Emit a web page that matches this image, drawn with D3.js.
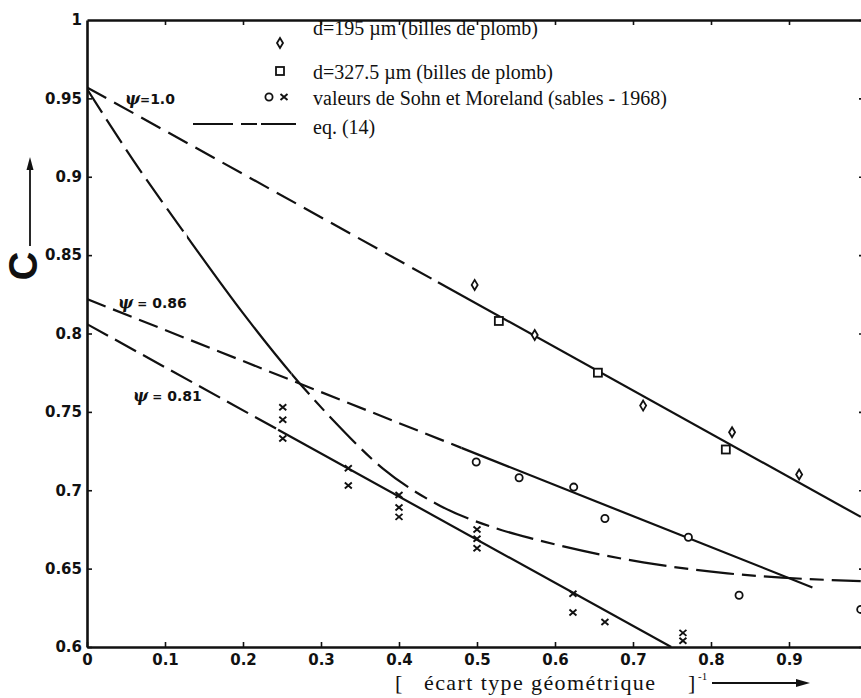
<!DOCTYPE html>
<html><head><meta charset="utf-8">
<script src="https://cdn.jsdelivr.net/npm/d3@7"></script>
<style>
body{margin:0;background:#fff}
svg{display:block}
.tick text{font-family:"DejaVu Sans",sans-serif;font-weight:bold;font-size:15px;fill:#111}
.lbl{font-family:"Liberation Serif","Times New Roman",serif;fill:#111}
</style>
</head><body>
<svg id="chart" width="861" height="698"></svg>
<script>
// ---------- data ----------
const xTicks = [0, 0.1, 0.2, 0.3, 0.4, 0.5, 0.6, 0.7, 0.8, 0.9];
const xTickLabels = ["0", "0.1", "0.2", "0.3", "0.4", "0.5", "0.6", "0.7", "0.8", "0.9"];
const yTicks = [0.6, 0.65, 0.7, 0.75, 0.8, 0.85, 0.9, 0.95, 1];
const yTickLabels = ["0.6", "0.65", "0.7", "0.75", "0.8", "0.85", "0.9", "0.95", "1"];

const legendLabels = ["d=195 \u00b5m (billes de plomb)", "d=327.5 \u00b5m (billes de plomb)",
  "valeurs de Sohn et Moreland (sables - 1968)", "eq. (14)"];

// d = 195 µm (diamonds)
const diamondX = [0.497, 0.574, 0.713, 0.827, 0.913];
const diamondC = [0.831, 0.799, 0.754, 0.737, 0.710];
// d = 327.5 µm (squares)
const squareX = [0.528, 0.655, 0.819];
const squareC = [0.808, 0.775, 0.726];
// Sohn & Moreland (circles)
const circleX = [0.499, 0.554, 0.624, 0.664, 0.771, 0.836, 0.992];
const circleC = [0.718, 0.708, 0.702, 0.682, 0.670, 0.633, 0.624];
// Sohn & Moreland (crosses)
const crossX = [0.251, 0.251, 0.251, 0.335, 0.335, 0.40, 0.40, 0.40, 0.50, 0.50, 0.50, 0.623, 0.623, 0.664, 0.764, 0.764];
const crossC = [0.753, 0.745, 0.733, 0.714, 0.703, 0.697, 0.689, 0.683, 0.675, 0.669, 0.663, 0.634, 0.622, 0.616, 0.609, 0.604];

// straight lines (start / end) and where the solid (fitted) part begins
const psi100X = [0, 0.992], psi100C = [0.957, 0.683], psi100SolidFrom = 0.45;
const psi086X = [0, 0.93],  psi086C = [0.822, 0.638], psi086SolidFrom = 0.48;
const psi081X = [0, 0.749], psi081C = [0.806, 0.600], psi081SolidFrom = 0.245;

// eq. (14) curve
const eq14X = [0, 0.06, 0.128, 0.2, 0.273, 0.315, 0.379, 0.453, 0.529, 0.572, 0.658, 0.713, 0.821, 0.992];
const eq14C = [0.956, 0.910, 0.862, 0.813, 0.768, 0.745, 0.714, 0.690, 0.675, 0.669, 0.659, 0.654, 0.647, 0.642];
const eq14SolidRange = [0.128, 0.262];

const psiLabels = ["1.0", "0.86", "0.81"];

// ---------- drawing ----------
const svg = d3.select("#chart");
const x = d3.scaleLinear().domain([0, 1]).range([87, 867]);
const y = d3.scaleLinear().domain([0.6, 1]).range([647, 20]);
const ink = "#111";

// axes
const gx = svg.append("g").attr("transform", `translate(0,${y(0.6)})`)
  .call(d3.axisBottom(x).tickValues(xTicks).tickFormat((d, i) => xTickLabels[i]).tickSize(-5).tickSizeOuter(0).tickPadding(7));
const gy = svg.append("g").attr("transform", `translate(${x(0)},0)`)
  .call(d3.axisLeft(y).tickValues(yTicks).tickFormat((d, i) => yTickLabels[i]).tickSize(-5).tickSizeOuter(0).tickPadding(5));
const gt = svg.append("g").attr("transform", `translate(0,${y(1)})`)
  .call(d3.axisTop(x).tickValues(xTicks.slice(1)).tickFormat("").tickSize(-5).tickSizeOuter(0));
const gr = svg.append("g").attr("transform", `translate(866,0)`)
  .call(d3.axisRight(y).tickValues(yTicks).tickFormat("").tickSize(-7).tickSizeOuter(0));
[gx, gy, gt, gr].forEach(g => {
  g.select(".domain").attr("stroke", ink).attr("stroke-width", 2.6);
  g.selectAll(".tick line").attr("stroke", ink).attr("stroke-width", 1.6);
});
gy.select(".tick:last-of-type line").remove();

// clip to plot
svg.append("clipPath").attr("id", "plot").append("rect")
  .attr("x", x(0)).attr("y", y(1)).attr("width", x(1) - x(0)).attr("height", y(0.6) - y(1));
const plot = svg.append("g").attr("clip-path", "url(#plot)");

function lerp(X, C, t) { return C[0] + (C[1] - C[0]) * (t - X[0]) / (X[1] - X[0]); }
function straight(X, C, solidFrom, dash) {
  const ln = d3.line().x(d => x(d[0])).y(d => y(d[1]));
  plot.append("path").datum([[X[0], C[0]], [solidFrom, lerp(X, C, solidFrom)]])
    .attr("d", ln).attr("fill", "none").attr("stroke", ink).attr("stroke-width", 2.2).attr("stroke-dasharray", dash);
  plot.append("path").datum([[solidFrom, lerp(X, C, solidFrom)], [X[1], C[1]]])
    .attr("d", ln).attr("fill", "none").attr("stroke", ink).attr("stroke-width", 2.2);
}
straight(psi100X, psi100C, psi100SolidFrom, "22,9");
straight(psi086X, psi086C, psi086SolidFrom, "20,8");
straight(psi081X, psi081C, psi081SolidFrom, "24,8");

// eq 14 curve
const eqPts = eq14X.map((v, i) => [v, eq14C[i]]);
const curveLine = d3.line().x(d => x(d[0])).y(d => y(d[1])).curve(d3.curveMonotoneX);
svg.append("clipPath").attr("id", "eqsolid").append("rect")
  .attr("x", x(eq14SolidRange[0])).attr("y", 0).attr("width", x(eq14SolidRange[1]) - x(eq14SolidRange[0])).attr("height", 698);
svg.append("clipPath").attr("id", "eqdash1").append("rect")
  .attr("x", 0).attr("y", 0).attr("width", x(eq14SolidRange[0])).attr("height", 698);
svg.append("clipPath").attr("id", "eqdash2").append("rect")
  .attr("x", x(eq14SolidRange[1])).attr("y", 0).attr("width", 861).attr("height", 698);
plot.append("g").attr("clip-path", "url(#eqdash1)").append("path").datum(eqPts).attr("d", curveLine)
  .attr("fill", "none").attr("stroke", ink).attr("stroke-width", 2.2).attr("stroke-dasharray", "28,8");
plot.append("g").attr("clip-path", "url(#eqsolid)").append("path").datum(eqPts).attr("d", curveLine)
  .attr("fill", "none").attr("stroke", ink).attr("stroke-width", 2.2);
plot.append("g").attr("clip-path", "url(#eqdash2)").append("path").datum(eqPts).attr("d", curveLine)
  .attr("fill", "none").attr("stroke", ink).attr("stroke-width", 2.2).attr("stroke-dasharray", "38,8,14,8");

// markers
function diamond(g, cx, cy) {
  g.append("path").attr("d", `M${cx},${cy - 5}L${cx + 3},${cy}L${cx},${cy + 5}L${cx - 3},${cy}Z`)
    .attr("fill", "#fff").attr("stroke", ink).attr("stroke-width", 1.8);
}
function square(g, cx, cy) {
  g.append("rect").attr("x", cx - 4).attr("y", cy - 4).attr("width", 8).attr("height", 8)
    .attr("fill", "#fff").attr("stroke", ink).attr("stroke-width", 1.8);
}
function circ(g, cx, cy) {
  g.append("circle").attr("cx", cx).attr("cy", cy).attr("r", 3.6)
    .attr("fill", "#fff").attr("stroke", ink).attr("stroke-width", 1.8);
}
function cross(g, cx, cy) {
  g.append("path").attr("d", `M${cx - 3.5},${cy - 3}L${cx + 3.5},${cy + 3}M${cx + 3.5},${cy - 3}L${cx - 3.5},${cy + 3}`)
    .attr("stroke", ink).attr("stroke-width", 1.9);
}
const mk = svg.append("g");
diamondX.forEach((v, i) => diamond(mk, x(v), y(diamondC[i])));
squareX.forEach((v, i) => square(mk, x(v), y(squareC[i])));
circleX.forEach((v, i) => circ(mk, x(v), y(circleC[i])));
crossX.forEach((v, i) => cross(mk, x(v), y(crossC[i])));

// legend
diamond(svg, 280, 43);
square(svg, 280, 71);
circ(svg, 269, 97);
cross(svg, 284, 97);
svg.append("line").attr("x1", 193).attr("x2", 296).attr("y1", 124).attr("y2", 124)
  .attr("stroke", ink).attr("stroke-width", 2.2).attr("stroke-dasharray", "40,8,16,4,36");
const legY = [35, 79, 105, 134];
legendLabels.forEach((t, i) => svg.append("text").attr("class", "lbl").attr("x", 313).attr("y", legY[i])
  .attr("font-size", 20).text(t));

// psi labels
const psiPos = [[125, 104], [118, 308], [133, 401]];
psiLabels.forEach((t, i) => {
  const tx = svg.append("text").attr("x", psiPos[i][0]).attr("y", psiPos[i][1])
    .attr("font-family", "DejaVu Sans, sans-serif").attr("font-size", 14).attr("font-weight", "bold").attr("fill", ink);
  tx.append("tspan").attr("font-style", "italic").attr("font-family", "DejaVu Serif, serif").attr("font-size", 16).text("\u03c8");
  tx.append("tspan").attr("font-size", 12).text(i === 0 ? "=" : " =");
  tx.append("tspan").text(i === 0 ? "1.0" : " " + t);
});

// y label C with arrow
svg.append("text").attr("transform", "translate(37,266) rotate(-90)").attr("text-anchor", "middle")
  .attr("font-family", "Liberation Sans, Arial, sans-serif").attr("font-weight", "bold").attr("font-size", 40)
  .attr("fill", ink).text("C");
svg.append("line").attr("x1", 30).attr("x2", 30).attr("y1", 246).attr("y2", 166).attr("stroke", ink).attr("stroke-width", 1.8);
svg.append("path").attr("d", "M30,157L26.5,170L33.5,170Z").attr("fill", ink);

// x label
svg.append("text").attr("class", "lbl").attr("x", 395).attr("y", 690).attr("font-size", 22).text("[");
svg.append("text").attr("class", "lbl").attr("x", 424).attr("y", 690).attr("font-size", 22)
  .attr("letter-spacing", 1.4).text("\u00e9cart type g\u00e9om\u00e9trique");
svg.append("text").attr("class", "lbl").attr("x", 688).attr("y", 690).attr("font-size", 22).text("]");
svg.append("text").attr("class", "lbl").attr("x", 698).attr("y", 680).attr("font-size", 11).text("-1");
svg.append("line").attr("x1", 712).attr("x2", 800).attr("y1", 683).attr("y2", 683).attr("stroke", ink).attr("stroke-width", 1.8);
svg.append("path").attr("d", "M810,683L796,679L796,687Z").attr("fill", ink);
</script>
</body></html>
